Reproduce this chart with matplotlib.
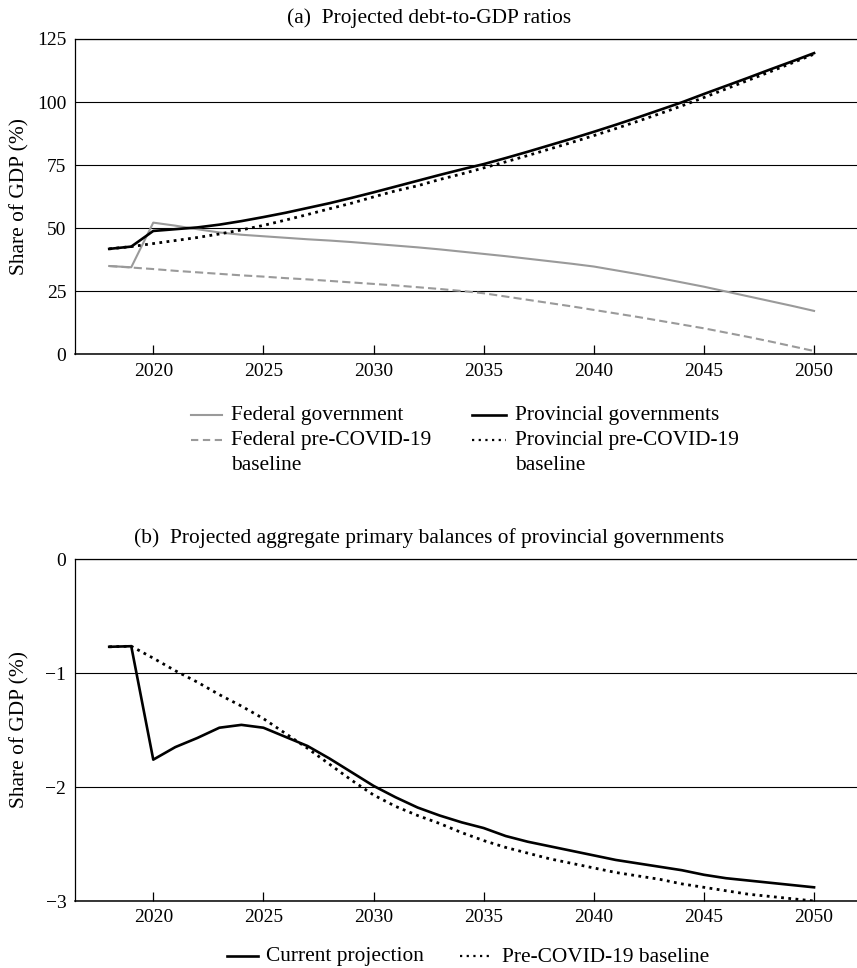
import matplotlib
matplotlib.use("Agg")
import matplotlib.pyplot as plt
from matplotlib.lines import Line2D

plt.rcParams['font.family'] = ['Liberation Serif', 'DejaVu Serif']
plt.rcParams['font.size'] = 14
TXT = 15.4

# ---------------- data ----------------
years = list(range(2018, 2051))

federal = [35.0, 34.5, 52.2, 51.0, 49.6, 48.3, 47.4, 46.8, 46.2, 45.6, 45.1,
           44.5, 43.8, 43.1, 42.4, 41.6, 40.7, 39.8, 38.9, 37.9, 36.9, 35.9,
           34.8, 33.3, 31.8, 30.2, 28.5, 26.8, 24.9, 23.0, 21.1, 19.2, 17.2]

federal_pre = [35.0, 34.4, 33.8, 33.1, 32.5, 31.9, 31.3, 30.8, 30.2, 29.7, 29.1,
               28.5, 27.9, 27.3, 26.6, 25.9, 25.1, 24.2, 22.9, 21.6, 20.3, 19.0,
               17.6, 16.2, 14.8, 13.3, 11.8, 10.3, 8.6, 6.9, 5.1, 3.2, 1.3]

provincial = [41.8, 42.7, 48.9, 49.6, 50.3, 51.4, 52.8, 54.4, 56.1, 58.0, 59.9,
              62.0, 64.2, 66.5, 68.8, 71.1, 73.3, 75.4, 77.8, 80.3, 82.9, 85.5,
              88.2, 91.0, 93.9, 96.9, 99.9, 103.2, 106.4, 109.6, 112.9, 116.1, 119.4]

provincial_pre = [41.8, 42.7, 43.9, 45.1, 46.3, 47.7, 49.3, 51.1, 53.2, 55.4, 57.7,
                  59.9, 62.4, 64.8, 66.8, 69.3, 71.5, 73.9, 76.3, 78.8, 81.4, 84.0,
                  86.7, 89.5, 92.4, 95.4, 98.5, 101.8, 105.2, 108.6, 112.0, 115.5, 119.0]

balance = [-0.77, -0.765, -1.76, -1.65, -1.57, -1.48, -1.455, -1.48, -1.56, -1.64, -1.75,
           -1.87, -1.99, -2.09, -2.18, -2.25, -2.31, -2.36, -2.43, -2.48, -2.52, -2.56,
           -2.60, -2.64, -2.67, -2.70, -2.73, -2.77, -2.80, -2.82, -2.84, -2.86, -2.88]

balance_pre = [-0.77, -0.765, -0.87, -0.98, -1.08, -1.19, -1.29, -1.40, -1.53, -1.66, -1.80,
               -1.94, -2.07, -2.17, -2.25, -2.32, -2.40, -2.47, -2.53, -2.58, -2.63, -2.67,
               -2.71, -2.75, -2.78, -2.81, -2.85, -2.88, -2.91, -2.94, -2.96, -2.98, -3.00]

xticks = [2020, 2025, 2030, 2035, 2040, 2045, 2050]
yticks_a = [0, 25, 50, 75, 100, 125]
yticks_b = [-3, -2, -1, 0]
ytick_labels_b = ['\u22123', '\u22122', '\u22121', '0']

title_a = "(a)  Projected debt-to-GDP ratios"
title_b = "(b)  Projected aggregate primary balances of provincial governments"
ylabel = "Share of GDP (%)"

# ---------------- figure ----------------
W, H = 857, 968
fig = plt.figure(figsize=(W / 100, H / 100), dpi=100)

def fx(px):
    return px / W

def fy(py):
    return 1 - py / H

GRAY = '#9a9a9a'
left_px, right_px = 75.3, 857
ax_a = fig.add_axes([fx(left_px), fy(354.3), fx(right_px) - fx(left_px), (354.3 - 39) / H])
ax_b = fig.add_axes([fx(left_px), fy(901), fx(right_px) - fx(left_px), (901 - 559) / H])

xlim = (2016.46, 2051.95)

def style(ax, yt, ylim, ylabels=None):
    ax.set_xlim(*xlim)
    ax.set_ylim(*ylim)
    ax.set_xticks(xticks)
    ax.set_xticklabels([str(x) for x in xticks])
    ax.set_yticks(yt)
    if ylabels is not None:
        ax.set_yticklabels(ylabels)
    ax.tick_params(axis='x', direction='in', length=6.5, width=0.9, pad=6, colors='black')
    ax.tick_params(axis='y', length=0, pad=6.5)
    ax.spines['right'].set_visible(False)
    for s in ['left', 'bottom', 'top']:
        ax.spines[s].set_color('black')
        ax.spines[s].set_linewidth(0.9)
    ax.spines['bottom'].set_linewidth(1.1)
    ax.yaxis.grid(True, color='black', linewidth=0.8)
    ax.set_axisbelow(True)
    ax.set_ylabel(ylabel, fontsize=TXT)
    ax.yaxis.set_label_coords(-0.059, 0.5)

style(ax_a, yticks_a, (0, 125))
style(ax_b, yticks_b, (-3, 0), ytick_labels_b)

# panel (a)
ax_a.plot(years, federal_pre, color=GRAY, lw=1.5, dashes=(3.9, 2.0), solid_capstyle='butt')
ax_a.plot(years, federal, color=GRAY, lw=1.5)
ax_a.plot(years, provincial_pre, color='black', lw=2.0, dashes=(1.0, 1.6))
ax_a.plot(years, provincial, color='black', lw=1.9)

# panel (b)
ax_b.plot(years, balance_pre, color='black', lw=2.0, dashes=(1.0, 1.6))
ax_b.plot(years, balance, color='black', lw=1.9)

# titles
fig.text(fx(429.5), fy(22.7), title_a, ha='center', va='baseline', fontsize=TXT)
fig.text(fx(429.5), fy(542.7), title_b, ha='center', va='baseline', fontsize=TXT)

# legend (a)
def handle(x0, x1, y, **kw):
    fig.add_artist(Line2D([fx(x0), fx(x1)], [fy(y), fy(y)], transform=fig.transFigure, **kw))

handle(191, 222, 415, color=GRAY, lw=1.5)
fig.text(fx(231), fy(420), "Federal government", va='baseline', fontsize=TXT)
handle(191, 222, 440, color=GRAY, lw=1.5, dashes=(3.5, 2.2))
fig.text(fx(231), fy(445), "Federal pre-COVID-19", va='baseline', fontsize=TXT)
fig.text(fx(231), fy(469.5), "baseline", va='baseline', fontsize=TXT)
handle(472, 506, 415, color='black', lw=1.9)
fig.text(fx(515), fy(420), "Provincial governments", va='baseline', fontsize=TXT)
handle(472, 506, 440, color='black', lw=1.6, dashes=(1.0, 2.0))
fig.text(fx(515), fy(445), "Provincial pre-COVID-19", va='baseline', fontsize=TXT)
fig.text(fx(515), fy(469.5), "baseline", va='baseline', fontsize=TXT)

# legend (b)
handle(227, 258, 956, color='black', lw=1.9)
fig.text(fx(266), fy(961.5), "Current projection", va='baseline', fontsize=TXT)
handle(460, 493, 956, color='black', lw=1.6, dashes=(1.0, 2.0))
fig.text(fx(502), fy(961.5), "Pre-COVID-19 baseline", va='baseline', fontsize=TXT)

fig.savefig("out.png", dpi=100)
